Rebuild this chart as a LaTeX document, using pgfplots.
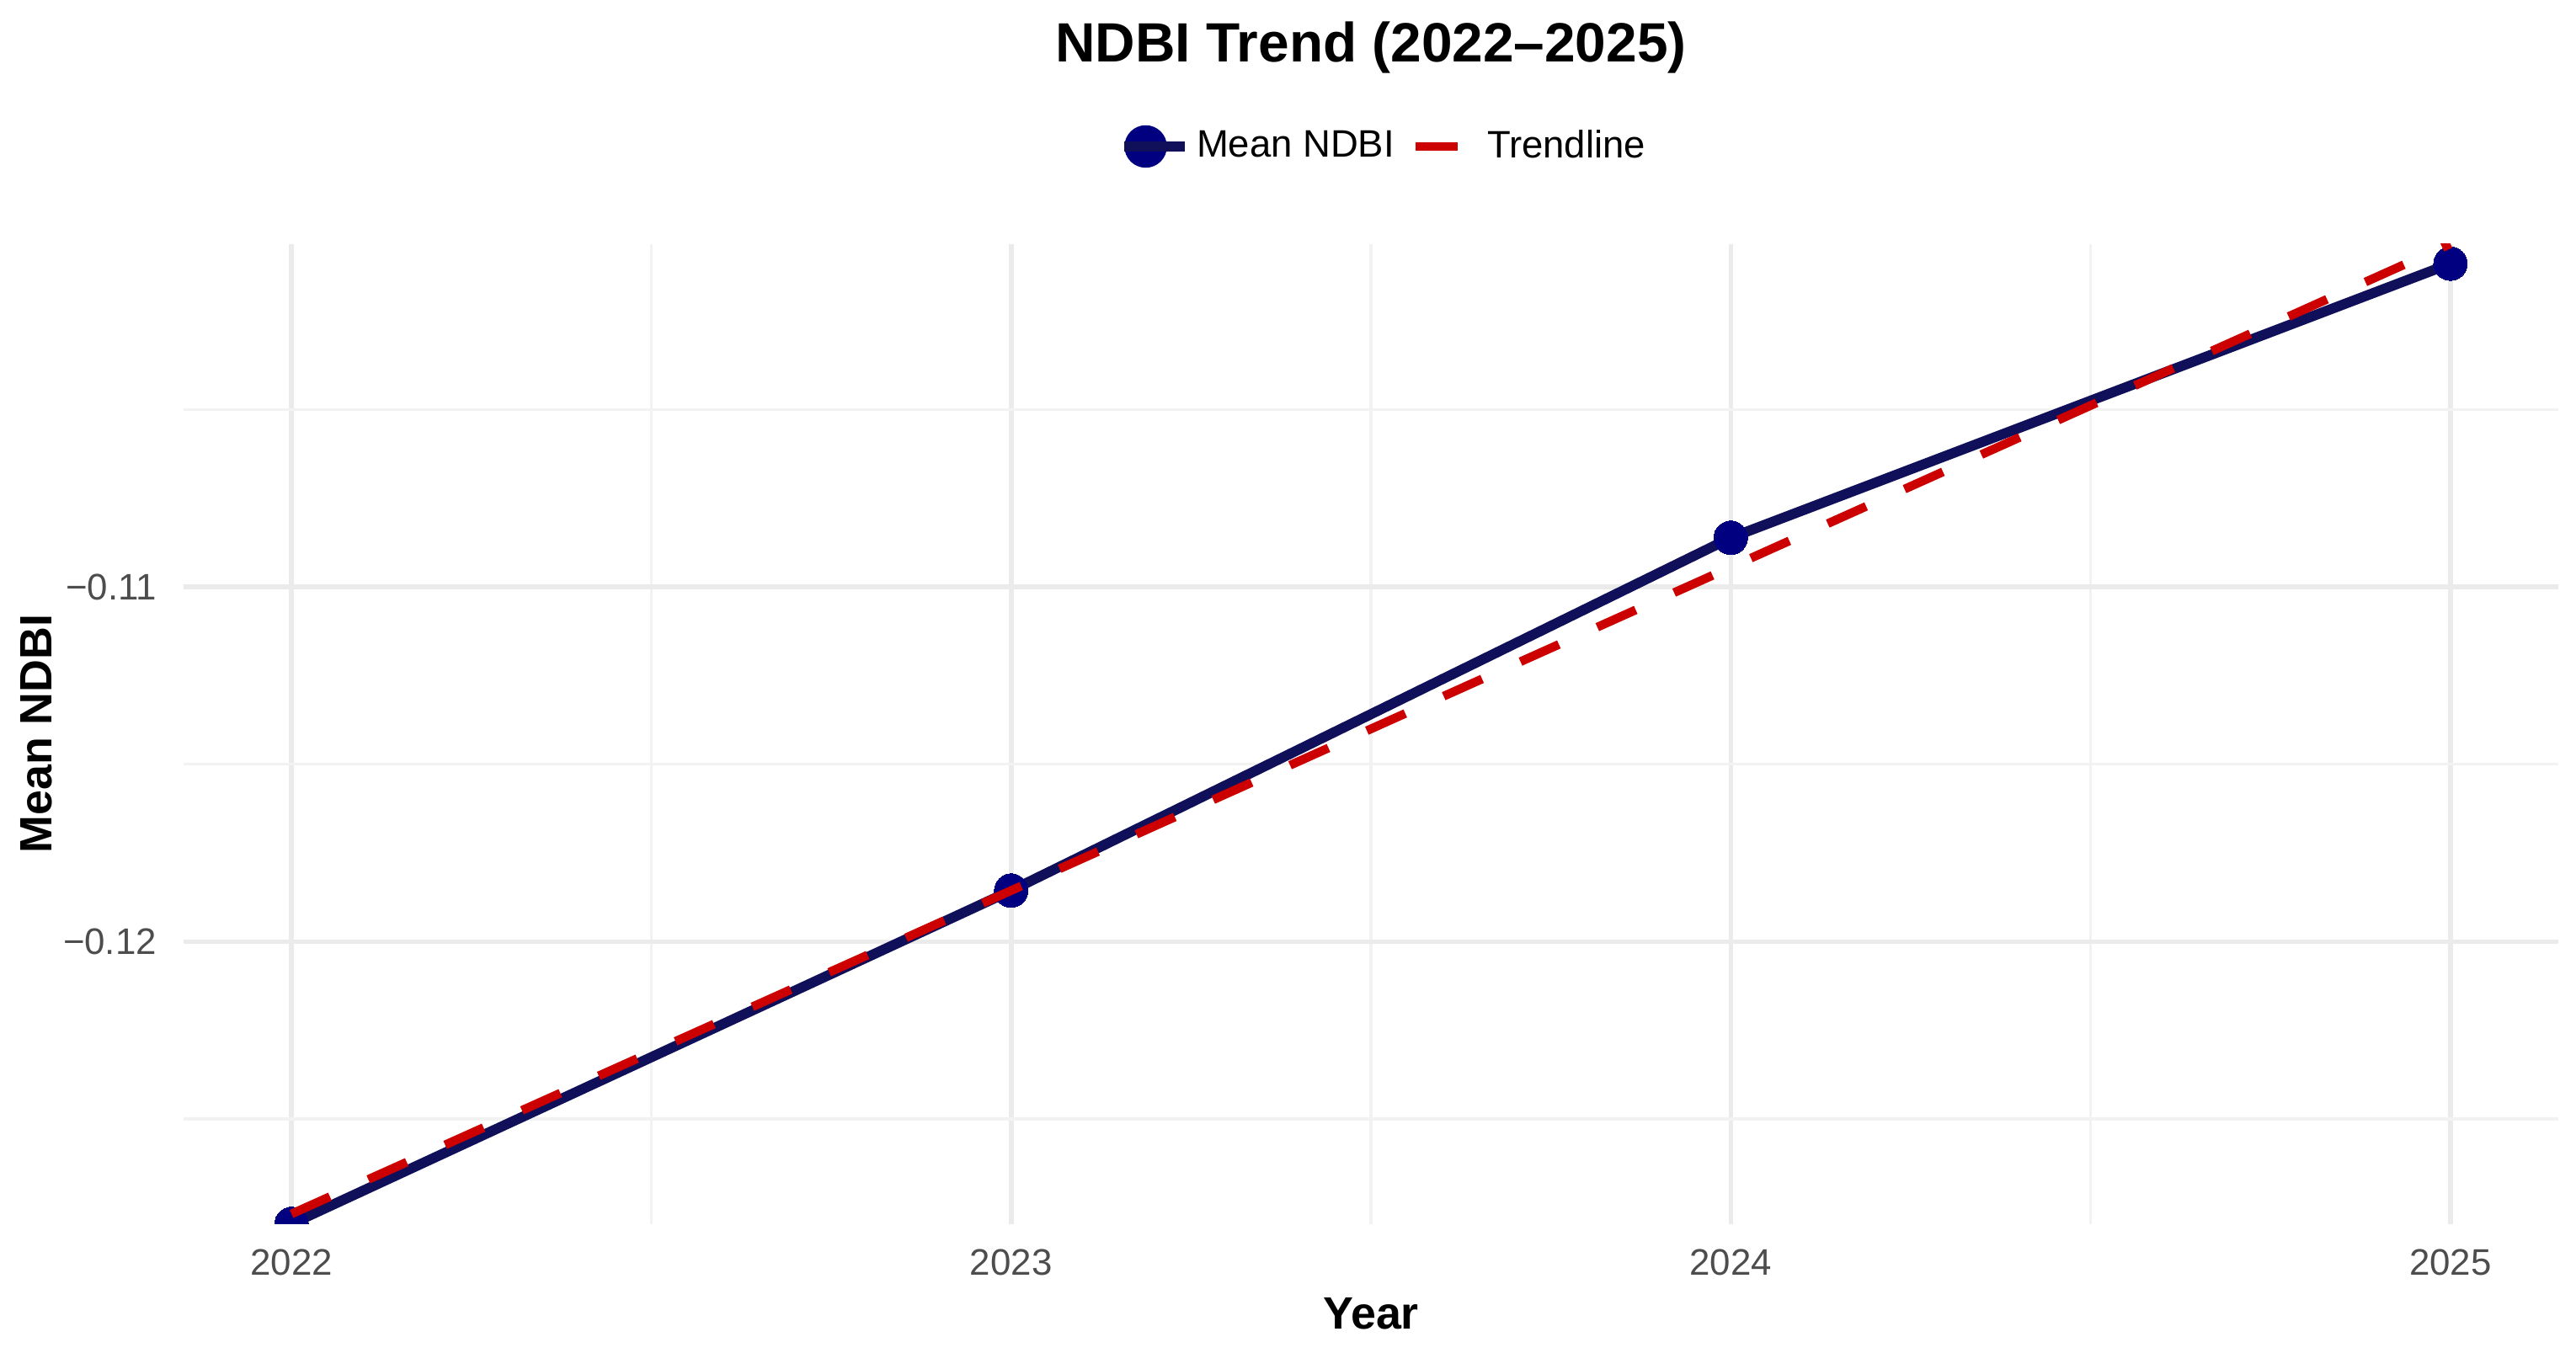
\documentclass[border=0pt]{standalone}
\usepackage{fontspec}
\setmainfont{Liberation Sans}
\usepackage{pgfplots}
\pgfplotsset{compat=1.18}

\definecolor{navyline}{HTML}{10105A}
\definecolor{navypt}{HTML}{000080}
\definecolor{trendred}{HTML}{CC0000}
\definecolor{gridmaj}{HTML}{EBEBEB}
\definecolor{gridmin}{HTML}{F2F2F2}
\definecolor{ticktext}{HTML}{4D4D4D}

\begin{document}
\begin{tikzpicture}[x=1bp,y=1bp]
\useasboundingbox (0,0) rectangle (764.75,401.5);
\begin{axis}[
  at={(54.5bp,38.1bp)}, anchor=south west,
  width=705bp, height=291bp, scale only axis,
  xmin=2021.85, xmax=2025.15,
  ymin=-0.12796, ymax=-0.10032,
  axis line style={draw=none},
  major tick style={draw=none}, minor tick style={draw=none},
  xtick={2022,2023,2024,2025}, xticklabels={2022,2023,2024,2025},
  minor xtick={2022.5,2023.5,2024.5},
  ytick={-0.12,-0.11}, yticklabels={−0.12,−0.11},
  minor ytick={-0.125,-0.115,-0.105},
  grid=both,
  major grid style={gridmaj, line width=1.4bp},
  minor grid style={gridmin, line width=0.8bp},
  tick label style={font=\fontsize{11}{13}\selectfont, text=ticktext},
  x tick label style={anchor=north, yshift=-4bp},
  y tick label style={anchor=east, xshift=-4.5bp},
  clip marker paths=true,
  title={NDBI Trend (2022–2025)},
  title style={at={(axis description cs:0.5,1.2103)}, anchor=center,
    yshift=-9bp, font=\bfseries\fontsize{16.5}{19}\selectfont},
  xlabel={Year},
  xlabel style={at={(axis description cs:0.5,-0.0914)}, anchor=center,
    font=\bfseries\fontsize{13.5}{16}\selectfont},
  ylabel={Mean NDBI},
  ylabel style={at={(axis description cs:-0.0621,0.5)}, anchor=center,
    font=\bfseries\fontsize{13.5}{16}\selectfont},
  legend columns=2,
  legend style={at={(axis description cs:0.5062,1.0993)}, anchor=center,
    draw=none, fill=none, font=\fontsize{11.4}{13}\selectfont,
    /tikz/every even column/.append style={column sep=3bp}},
]
% yearly mean values
\addplot[navyline, line width=3bp, mark=*, mark size=5bp,
  mark options={navypt, fill=navypt, line width=0pt},
  legend image code/.code={
    \draw[navyline, line width=3bp] (0bp,0bp) -- (12.7bp,0bp);
    \fill[navypt] (6.35bp,0bp) circle (4.8bp);
    \path (0bp,0bp) -- (18bp,0bp);}]
  coordinates {(2022,-0.12796) (2023,-0.11856) (2024,-0.10861) (2025,-0.10088)};
\addlegendentry{Mean NDBI}
% least-squares trend over the four years
\addplot[trendred, line width=2.6bp, dash pattern=on 12.5bp off 12.5bp,
  legend image code/.code={
    \draw[trendred, line width=2.6bp] (0bp,0bp) -- (12.7bp,0bp);
    \path (0bp,0bp) -- (18bp,0bp);}]
  coordinates {(2022,-0.12768) (2025,-0.10032)};
\addlegendentry{Trendline}
\end{axis}
\end{tikzpicture}
\end{document}
